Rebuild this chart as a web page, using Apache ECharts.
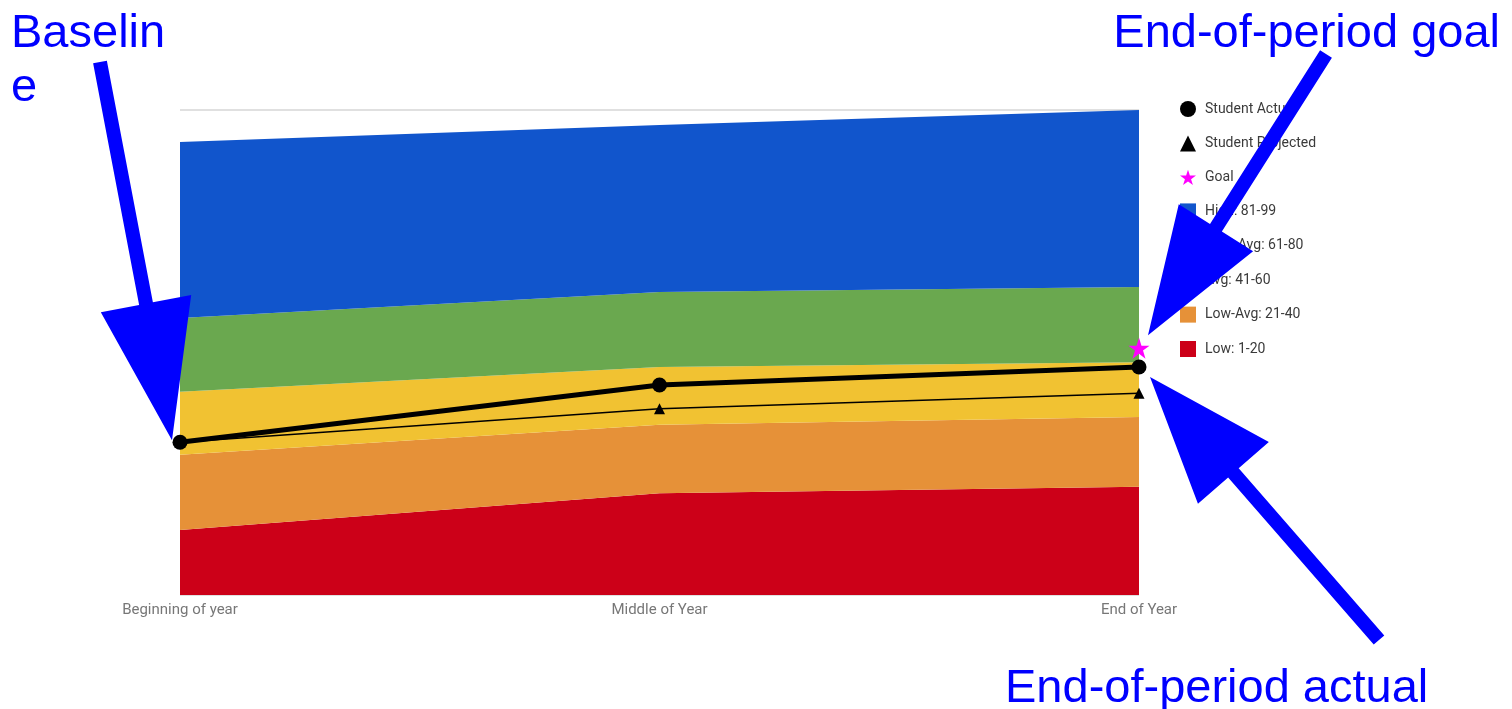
<!DOCTYPE html>
<html>
<head>
<meta charset="utf-8">
<title>Student progress</title>
<script src="https://cdn.jsdelivr.net/npm/echarts@6/dist/echarts.min.js"></script>
<style>
  html, body { margin: 0; padding: 0; background: #ffffff; }
  #chart { width: 1512px; height: 709px; }
</style>
</head>
<body>
<div id="chart"></div>
<script>
// Checkpoints across the year
const periods = ['Beginning of year', 'Middle of Year', 'End of Year'];

// Band thicknesses (stacked bottom to top)
const bandLow     = [13.4, 21.0, 22.3];
const bandLowAvg  = [15.5, 14.1, 14.4];
const bandAvg     = [13.0, 11.9, 11.3];
const bandHighAvg = [15.2, 15.5, 15.5];
const bandHigh    = [36.3, 34.4, 36.5];

// Student scores
const studentActual    = [31.5, 43.3, 47.0];
const studentProjected = [31.5, 38.4, 41.6];
const goal             = [null, null, 50.9];

// Band names and colours
const bandNames  = ['Low: 1-20', 'Low-Avg: 21-40', 'Avg: 41-60', 'High-Avg: 61-80', 'High: 81-99'];
const bandValues = [bandLow, bandLowAvg, bandAvg, bandHighAvg, bandHigh];
const bandColors = ['#cc0018', '#e69138', '#f1c232', '#6aa84f', '#1155cc'];

const STAR = 'path://M50,0 L61.8,36.2 L100,36.2 L69.1,58.6 L80.9,95.1 L50,72.6 L19.1,95.1 L30.9,58.6 L0,36.2 L38.2,36.2 Z';

const chart = echarts.init(document.getElementById('chart'), null, { renderer: 'canvas' });

const bandSeries = bandNames.map((name, i) => ({
  name: name,
  type: 'line',
  stack: 'bands',
  data: bandValues[i],
  symbol: 'none',
  silent: true,
  lineStyle: { width: 0 },
  areaStyle: { color: bandColors[i], opacity: 1 },
  itemStyle: { color: bandColors[i] },
  z: 1
}));

const option = {
  animation: false,
  backgroundColor: '#ffffff',
  grid: { left: 180, right: 373, top: 110, bottom: 114 },
  xAxis: {
    type: 'category',
    data: periods,
    boundaryGap: false,
    axisLine: { show: false },
    axisTick: { show: false },
    axisLabel: { color: '#777777', fontSize: 15, fontFamily: 'Roboto', margin: 8 }
  },
  yAxis: {
    type: 'value',
    min: 0, max: 100, interval: 100,
    axisLine: { show: false },
    axisTick: { show: false },
    axisLabel: { show: false },
    splitLine: { lineStyle: { color: '#d6d6d6', width: 1.5 } }
  },
  legend: {
    orient: 'vertical',
    left: 1175,
    top: 96,
    itemWidth: 16,
    itemHeight: 16,
    itemGap: 18.4,
    textStyle: { color: '#3a3a3a', fontSize: 14, fontFamily: 'Roboto', padding: [0, 0, 0, 4] },
    data: [
      { name: 'Student Actual', icon: 'circle' },
      { name: 'Student Projected', icon: 'triangle' },
      { name: 'Goal', icon: STAR },
      { name: 'High: 81-99', icon: 'rect' },
      { name: 'High-Avg: 61-80', icon: 'rect' },
      { name: 'Avg: 41-60', icon: 'rect' },
      { name: 'Low-Avg: 21-40', icon: 'rect' },
      { name: 'Low: 1-20', icon: 'rect' }
    ]
  },
  series: bandSeries.concat([
    {
      name: 'Student Projected',
      type: 'line',
      data: studentProjected,
      symbol: 'triangle',
      symbolSize: 11,
      lineStyle: { color: '#000000', width: 1.5 },
      itemStyle: { color: '#000000' },
      z: 3
    },
    {
      name: 'Student Actual',
      type: 'line',
      data: studentActual,
      symbol: 'circle',
      symbolSize: 15,
      lineStyle: { color: '#000000', width: 5 },
      itemStyle: { color: '#000000' },
      z: 4
    },
    {
      name: 'Goal',
      type: 'line',
      data: goal,
      symbol: STAR,
      symbolSize: 21,
      lineStyle: { width: 0 },
      itemStyle: { color: '#ff00ff' },
      z: 5
    }
  ])
};

chart.setOption(option);

// Callout arrows: thick shaft with a wide triangular head
function arrowPoints(tail, tip, headLen, headW, shaftW) {
  const dx = tip[0] - tail[0], dy = tip[1] - tail[1];
  const len = Math.hypot(dx, dy);
  const ux = dx / len, uy = dy / len;
  const nx = -uy, ny = ux;
  const bx = tip[0] - ux * headLen, by = tip[1] - uy * headLen;
  const s = shaftW / 2, h = headW / 2;
  return [
    [tail[0] + nx * s, tail[1] + ny * s],
    [bx + nx * s, by + ny * s],
    [bx + nx * h, by + ny * h],
    tip,
    [bx - nx * h, by - ny * h],
    [bx - nx * s, by - ny * s],
    [tail[0] - nx * s, tail[1] - ny * s]
  ];
}

function px(seriesName, idx, value) {
  return chart.convertToPixel({ seriesName: seriesName }, [idx, value]);
}

const baseP   = px('Student Actual', 0, studentActual[0]);
const actualP = px('Student Actual', 2, studentActual[2]);
const goalP   = px('Goal', 2, goal[2]);

const blue = '#0000ff';
const calloutFont = '47px "Liberation Sans", Arial, sans-serif';

function callout(text, x, y, align) {
  return { type: 'text', z: 100, style: { text: text, x: x, y: y, font: calloutFont, fill: blue, textAlign: align, verticalAlign: 'top' } };
}

chart.setOption({
  graphic: [
    { type: 'polygon', z: 100, shape: { points: arrowPoints([100, 62], [baseP[0] - 8, baseP[1] - 2], 139, 92, 14) }, style: { fill: blue } },
    { type: 'polygon', z: 100, shape: { points: arrowPoints([1326, 54], [goalP[0] + 9, goalP[1] - 13], 127, 88, 14) }, style: { fill: blue } },
    { type: 'polygon', z: 100, shape: { points: arrowPoints([1379, 640], [actualP[0] + 11, actualP[1] + 10], 127, 94, 14) }, style: { fill: blue } },
    callout('Baselin', 11, 11, 'left'),
    callout('e', 11, 65, 'left'),
    callout('End-of-period goal', 1500, 11, 'right'),
    callout('End-of-period actual', 1005, 666, 'left')
  ]
});
</script>
</body>
</html>
